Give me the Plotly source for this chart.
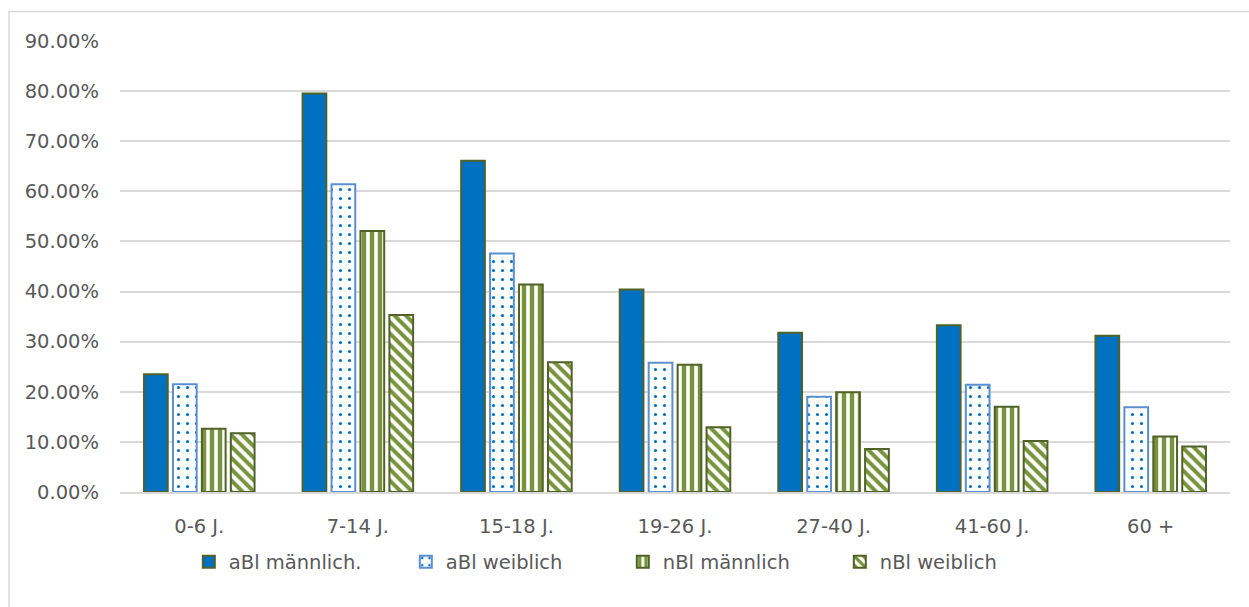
import plotly.graph_objects as go

categories = ["0-6 J.", "7-14 J.", "15-18 J.", "19-26 J.", "27-40 J.", "41-60 J.", "60 +"]
abl_m = [0.235, 0.795, 0.661, 0.404, 0.318, 0.333, 0.312]
abl_w = [0.215, 0.614, 0.476, 0.258, 0.190, 0.214, 0.169]
nbl_m = [0.126, 0.521, 0.414, 0.254, 0.199, 0.170, 0.111]
nbl_w = [0.117, 0.353, 0.259, 0.129, 0.086, 0.102, 0.091]
series_names = ["aBl männlich.", "aBl weiblich", "nBl männlich", "nBl weiblich"]

FONT = "DejaVu Sans"
TXT = "#595959"
DARK = "#4F6228"
GREEN = "#77933C"
BLUE = "#0070C0"
FS = 19.5

fig = go.Figure()
fig.add_trace(go.Bar(
    x=categories, y=abl_m, name=series_names[0],
    marker=dict(color=BLUE, line=dict(color=DARK, width=2)),
))
fig.add_trace(go.Bar(
    x=categories, y=abl_w, name=series_names[1],
    marker=dict(color="white", line=dict(color="#5B8FD0", width=2),
                pattern=dict(shape=".", fgcolor=BLUE, bgcolor="white",
                             size=9, solidity=0.1, fillmode="replace")),
))
fig.add_trace(go.Bar(
    x=categories, y=nbl_m, name=series_names[2],
    marker=dict(color="white", line=dict(color=DARK, width=2),
                pattern=dict(shape="|", fgcolor=GREEN, bgcolor="white",
                             size=8, solidity=0.55, fillmode="replace")),
))
fig.add_trace(go.Bar(
    x=categories, y=nbl_w, name=series_names[3],
    marker=dict(color="white", line=dict(color=DARK, width=2),
                pattern=dict(shape="\\", fgcolor=GREEN, bgcolor="white",
                             size=8, solidity=0.5, fillmode="replace")),
))

fig.update_layout(
    width=1249, height=607,
    margin=dict(l=120, r=19, t=41, b=115),
    paper_bgcolor="white", plot_bgcolor="white",
    barmode="group", bargap=0.27, bargroupgap=0.18,
    font=dict(family=FONT, size=FS, color=TXT),
    showlegend=True,
    legend=dict(orientation="h", x=0.062, xanchor="left", y=-0.112, yanchor="top",
                entrywidth=172, entrywidthmode="pixels",
                font=dict(family=FONT, size=FS, color=TXT),
                traceorder="normal", bgcolor="rgba(0,0,0,0)"),
    xaxis=dict(showgrid=False, showline=True, linecolor="#D9D9D9", linewidth=1.5,
               ticks="", ticklabelstandoff=16,
               tickfont=dict(family=FONT, size=FS, color=TXT)),
    yaxis=dict(range=[0, 0.9], dtick=0.1, tickformat=".2%",
               showgrid=True, gridcolor="#D9D9D9", gridwidth=1.5,
               zeroline=False, showline=False, ticks="", ticklabelstandoff=20,
               tickfont=dict(family=FONT, size=FS, color=TXT)),
    shapes=[dict(type="rect", xref="paper", yref="paper",
                 x0=(9 - 120) / 1110, x1=(1260 - 120) / 1110,
                 y0=(492 - 620) / 451, y1=(492 - 11.5) / 451,
                 line=dict(color="#D9D9D9", width=1.5), fillcolor="rgba(0,0,0,0)",
                 layer="below")],
)

fig.write_html("out.html")
